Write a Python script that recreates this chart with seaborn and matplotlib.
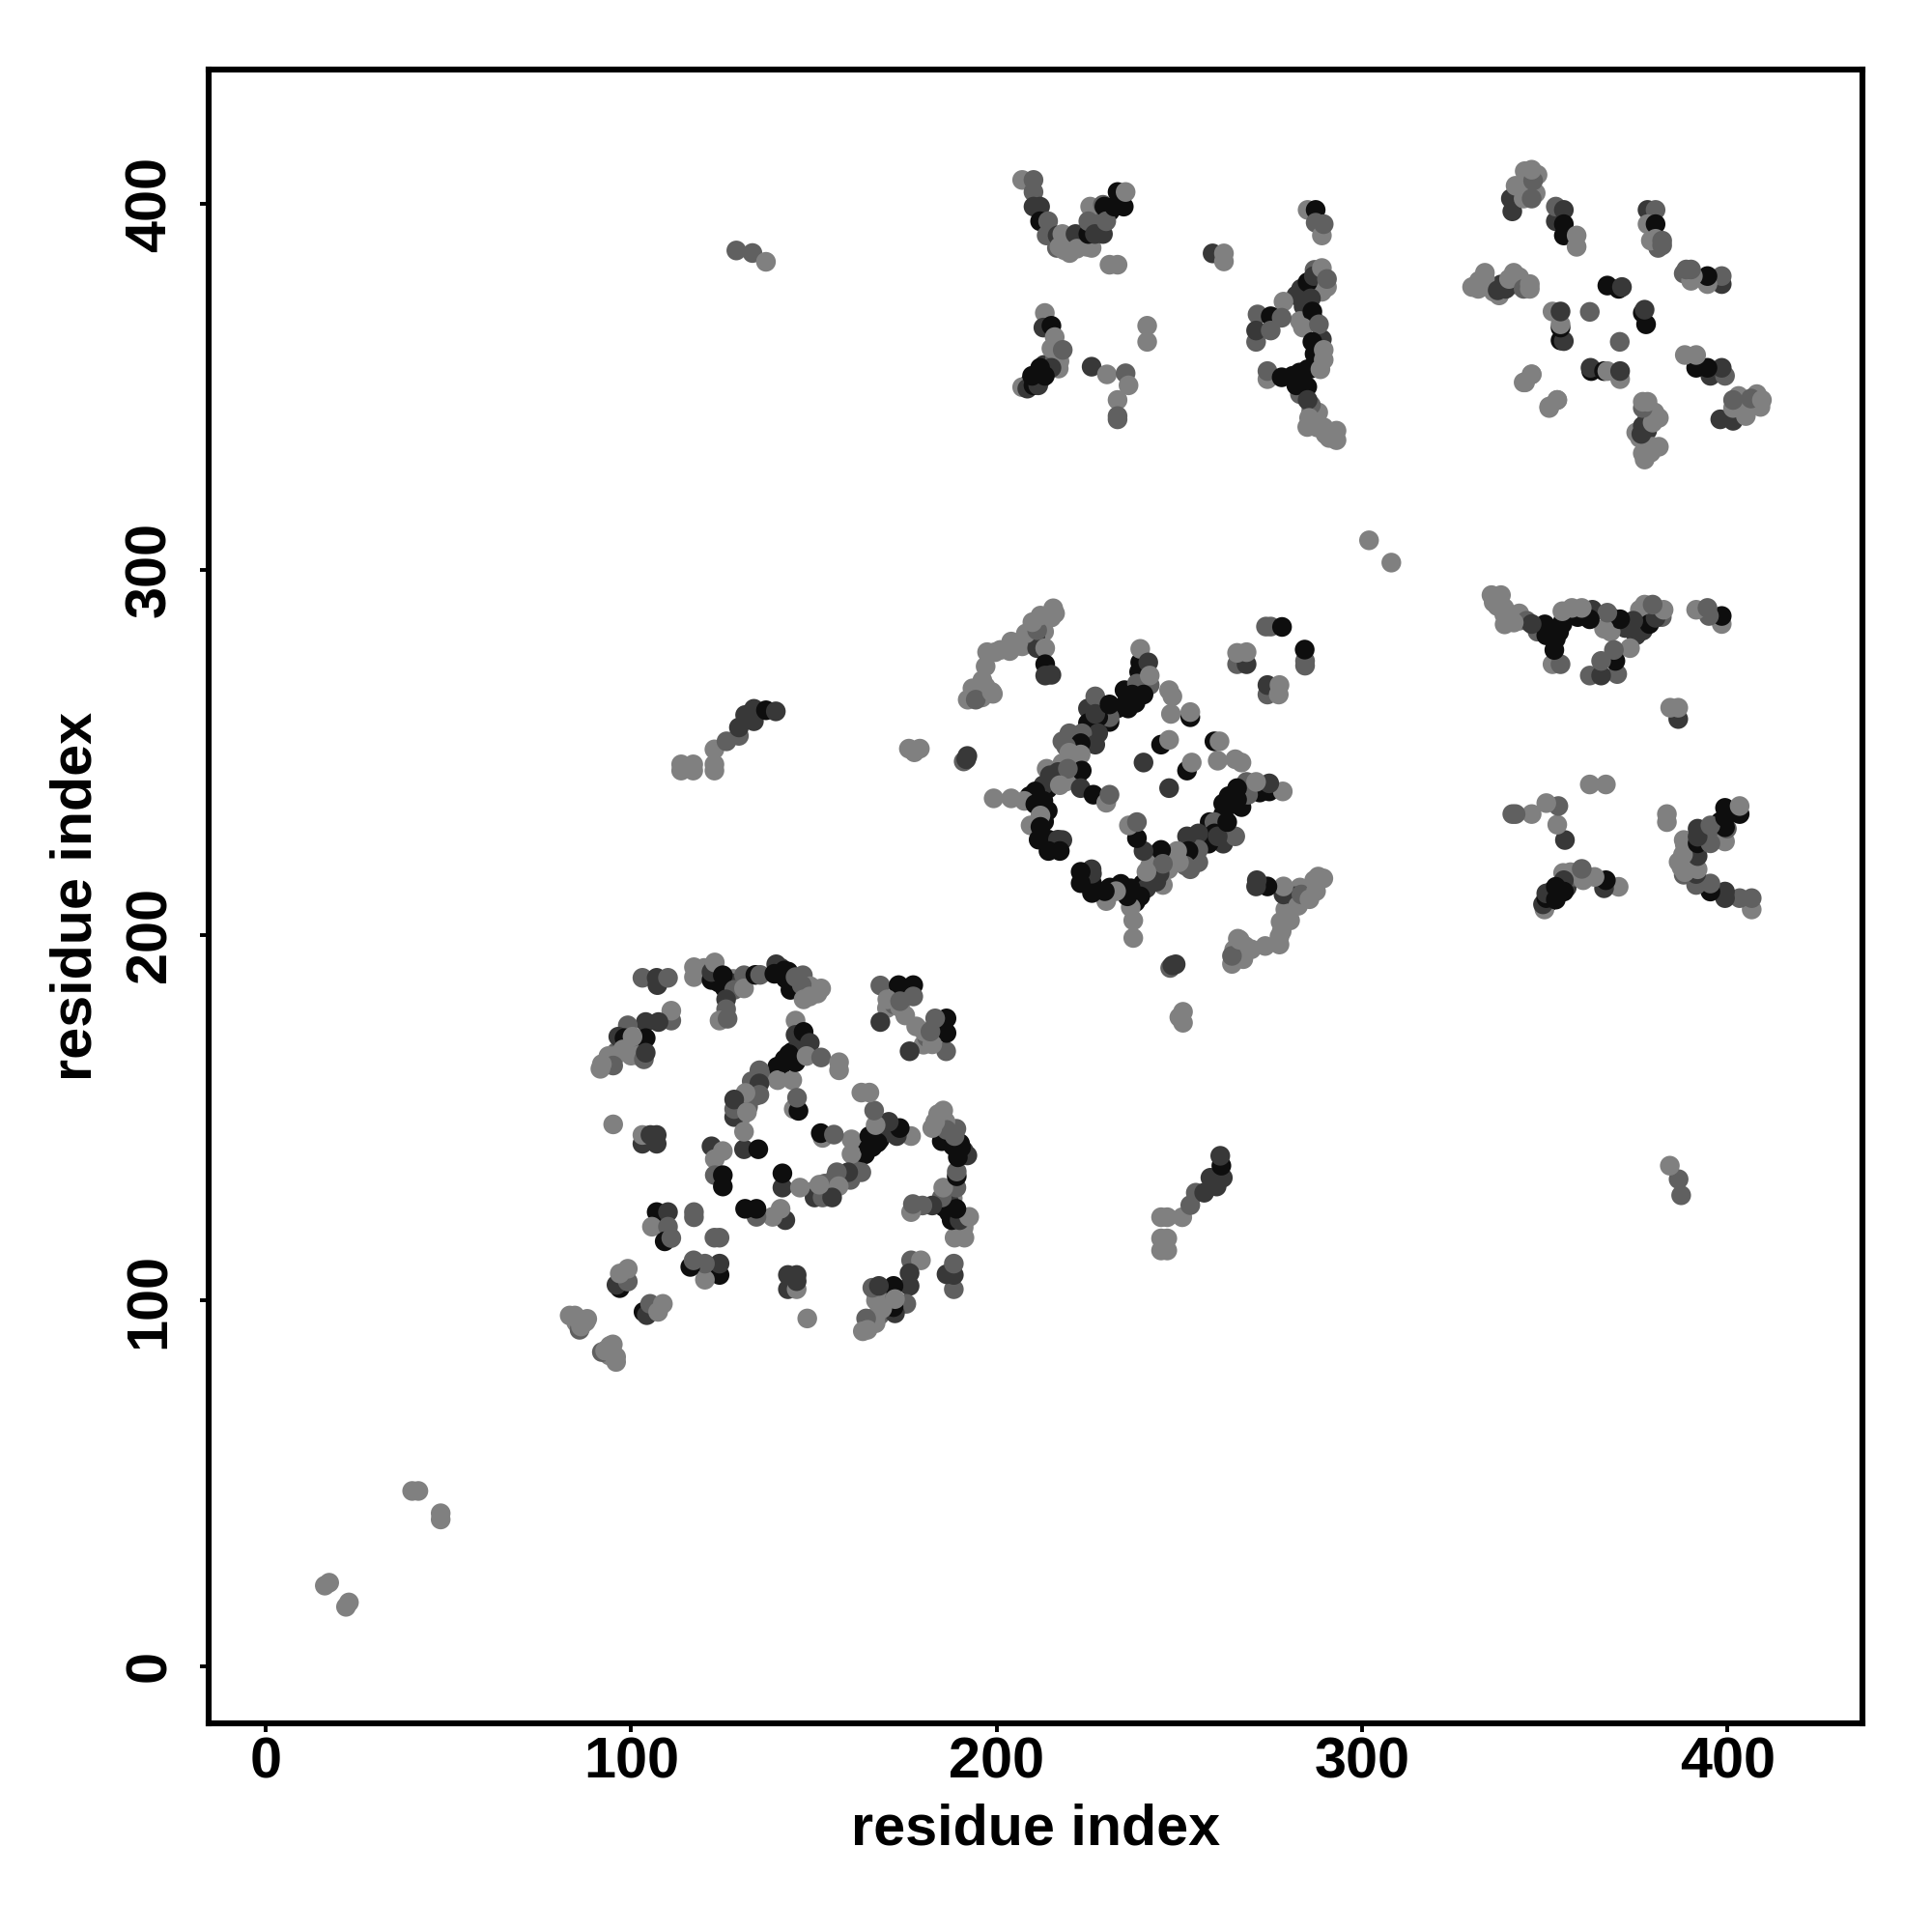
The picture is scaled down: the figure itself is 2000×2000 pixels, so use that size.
import matplotlib
matplotlib.use("Agg")
import matplotlib.pyplot as plt
import pandas as pd
import seaborn as sns

# contacts read from the upper triangle of the map, (i, j, shade)
# the map is symmetric, the lower triangle is mirrored below
contacts_far = [
    (16.2, 22.0, "L"), (17.4, 22.8, "L"), (40.1, 47.9, "L"), (41.8, 47.9, "L"),
    (128.8, 387.3, "M"), (133.2, 386.6, "M"), (136.9, 384.2, "L"), (301.9, 308.0, "L"),
    (113.7, 245.0, "L"), (117.0, 245.0, "L"), (113.7, 246.7, "L"), (117.0, 246.7, "L"),
    (122.8, 245.0, "L"), (122.8, 246.7, "L"), (122.8, 250.8, "L"),
    (126.1, 253.0, "M"), (129.5, 254.5, "M"), (129.5, 256.8, "D"), (133.6, 258.5, "D"),
    (131.2, 260.2, "D"), (133.6, 261.9, "D"), (136.9, 261.5, "K"), (139.6, 261.2, "D"),
    (176.0, 251.0, "L"), (177.5, 250.0, "L"), (179.0, 251.0, "L"),
]

# extra contacts in the crowded strands, drawn under the ones listed after them
contacts_strands = [
    (93.0, 165.0, "L"), (94.0, 166.0, "M"), (96.0, 168.0, "M"), (98.0, 170.0, "L"),
    (100.0, 170.0, "L"), (101.0, 169.0, "M"), (100.0, 167.0, "L"), (102.0, 167.0, "L"),
    (85.0, 94.0, "L"), (88.0, 95.0, "L"), (140.0, 164.0, "K"), (142.0, 166.0, "K"),
    (144.0, 168.0, "K"), (146.0, 170.0, "D"), (129.0, 153.0, "L"), (130.0, 150.0, "L"),
    (132.0, 153.0, "M"), (134.0, 156.0, "M"), (133.0, 160.0, "M"), (136.0, 161.0, "M"),
    (141.0, 191.0, "D"), (143.0, 190.0, "K"), (147.0, 189.0, "M"), (149.0, 186.0, "L"),
    (151.0, 184.0, "L"), (123.0, 190.0, "K"), (124.0, 187.0, "K"), (128.0, 188.0, "L"),
    (120.0, 191.0, "L"), (118.0, 190.0, "L"), (127.0, 187.0, "D"), (175.0, 178.0, "L"),
    (170.0, 180.0, "L"), (172.0, 181.0, "M"),
    (191.0, 247.5, "M"), (192.0, 249.0, "D"), (205.0, 279.0, "L"), (201.0, 278.0, "L"),
    (199.0, 266.0, "L"), (196.0, 265.0, "L"), (197.0, 268.0, "L"), (210.0, 284.0, "L"),
    (213.0, 286.0, "L"), (213.0, 283.0, "L"), (207.0, 279.0, "L"), (216.0, 288.0, "L"),
    (235.0, 267.0, "K"), (236.0, 262.0, "K"), (233.0, 262.0, "K"), (240.0, 268.0, "M"),
    (240.0, 270.0, "M"), (239.0, 272.0, "K"), (225.0, 262.0, "D"), (221.0, 253.0, "D"),
    (218.0, 253.0, "M"), (226.0, 256.0, "K"), (225.0, 258.0, "K"), (212.0, 238.0, "K"),
    (214.0, 240.0, "K"), (216.0, 243.0, "M"), (218.0, 247.0, "L"), (209.0, 238.0, "K"),
    (213.0, 231.0, "K"), (214.0, 234.0, "K"), (218.0, 226.0, "D"), (222.0, 243.0, "M"),
    (219.0, 242.0, "L"),
    (219.0, 388.0, "L"), (220.0, 386.6, "L"), (223.0, 389.0, "L"), (216.5, 388.0, "M"),
    (226.0, 388.0, "L"), (228.0, 394.0, "K"), (227.0, 396.0, "M"), (231.0, 398.0, "K"),
    (287.0, 382.0, "M"), (288.0, 378.0, "D"), (284.0, 377.0, "K"), (282.0, 375.0, "D"),
    (289.0, 376.0, "L"), (284.0, 372.0, "D"), (287.0, 368.0, "K"), (283.0, 368.0, "L"),
    (289.0, 363.0, "D"), (287.0, 359.0, "K"), (286.0, 355.0, "K"), (281.0, 353.0, "K"),
    (284.0, 351.0, "K"), (283.0, 348.0, "M"), (286.0, 343.0, "L"), (288.0, 340.0, "L"),
    (291.0, 337.0, "L"), (285.0, 339.0, "L"), (287.0, 341.0, "L"), (290.0, 337.0, "L"),
    (291.0, 336.0, "L"), (288.0, 343.0, "L"), (286.0, 345.0, "M"), (285.0, 350.0, "K"),
    (209.0, 351.0, "K"), (212.0, 352.0, "K"), (213.0, 356.0, "D"), (216.0, 358.0, "M"),
    (217.0, 355.0, "L"),
    (332.0, 379.0, "L"), (336.0, 376.0, "L"), (338.0, 378.0, "D"), (342.0, 378.0, "L"),
    (343.0, 380.0, "L"), (337.5, 375.0, "L"), (343.0, 403.0, "L"), (344.0, 405.0, "L"),
    (346.0, 404.0, "L"), (348.0, 408.0, "L"), (344.5, 409.0, "L"), (347.5, 403.0, "L"),
    (381.0, 389.0, "L"), (381.0, 388.0, "M"), (379.0, 390.0, "L"),
]

contacts_block_a = [
    (103.1, 188.3, "M"), (107.2, 186.3, "D"), (107.0, 188.3, "D"), (110.1, 188.3, "M"),
    (117.2, 188.5, "L"), (117.2, 191.2, "L"), (122.0, 187.7, "K"), (122.0, 189.9, "D"),
    (122.9, 192.5, "L"), (125.6, 185.5, "K"), (125.1, 189.0, "K"), (128.2, 185.0, "M"),
    (130.9, 189.0, "M"), (130.9, 185.4, "L"), (134.0, 189.1, "K"), (135.3, 189.1, "M"),
    (126.0, 182.4, "D"), (126.0, 179.7, "M"), (124.2, 176.6, "L"), (126.4, 177.1, "M"),
    (139.7, 192.0, "D"), (139.2, 189.4, "K"), (141.9, 190.3, "K"), (142.3, 188.1, "K"),
    (143.6, 185.0, "K"), (145.0, 188.5, "M"), (146.7, 186.3, "M"), (147.2, 182.4, "L"),
    (148.9, 183.2, "L"), (152.0, 185.4, "L"),
    (168.2, 186.2, "M"), (173.2, 186.3, "K"), (177.2, 186.3, "K"), (170.1, 182.4, "L"),
    (173.6, 180.2, "L"), (173.6, 181.9, "M"), (177.2, 183.2, "M"), (168.2, 176.2, "D"),
    (111.0, 176.6, "M"), (111.0, 179.3, "L"), (107.5, 176.2, "D"), (104.0, 176.2, "D"),
    (104.0, 171.8, "K"), (103.5, 166.0, "M"), (104.0, 167.8, "D"), (99.1, 175.3, "M"),
    (96.5, 172.2, "D"), (98.2, 171.8, "K"), (100.4, 172.2, "L"), (97.8, 168.7, "L"),
    (95.6, 166.9, "L"), (93.8, 166.9, "L"), (95.1, 164.3, "M"), (92.0, 164.7, "L"),
    (91.6, 163.4, "L"),
    (145.0, 176.6, "L"), (145.0, 172.7, "D"), (147.2, 173.5, "K"), (148.9, 170.5, "D"),
    (143.2, 167.4, "K"), (140.6, 163.0, "K"), (140.1, 160.3, "L"), (144.1, 160.3, "L"),
    (145.0, 165.2, "K"), (141.9, 165.2, "K"), (148.0, 166.9, "L"), (152.0, 166.5, "M"),
    (156.9, 163.0, "L"), (156.9, 165.2, "L"),
    (135.1, 163.0, "M"), (135.1, 159.4, "D"), (135.1, 156.3, "M"), (131.3, 156.8, "L"),
    (128.2, 150.2, "D"), (128.2, 152.4, "M"), (128.2, 155.0, "D"), (131.7, 151.5, "L"),
    (144.5, 152.4, "L"), (145.8, 151.9, "K"), (145.4, 155.5, "M"),
    (130.9, 141.4, "D"), (134.8, 141.4, "K"), (130.9, 146.2, "L"),
    (122.0, 142.2, "D"), (122.9, 138.7, "L"), (125.1, 140.9, "L"),
    (122.9, 134.3, "M"), (125.1, 131.2, "K"), (125.1, 134.3, "K"),
    (103.1, 142.9, "D"), (107.0, 142.9, "D"), (103.1, 145.3, "L"), (105.3, 145.3, "D"),
    (107.0, 145.3, "D"), (95.1, 148.2, "L"),
    (107.0, 124.2, "K"), (110.1, 124.2, "D"), (105.7, 120.2, "L"), (110.1, 120.2, "M"),
    (109.2, 116.2, "K"), (111.0, 117.1, "M"), (117.2, 122.8, "M"), (117.2, 124.2, "M"),
    (96.9, 103.4, "K"), (96.0, 104.3, "D"), (99.1, 105.2, "M"), (96.9, 107.4, "L"),
    (99.1, 108.7, "L"),
    (85.9, 92.0, "M"), (86.3, 92.9, "L"), (87.6, 94.2, "L"), (85.4, 95.0, "L"),
    (84.6, 95.9, "L"), (83.2, 95.9, "L"),
]

contacts_block_b = [
    (211.1, 278.5, "D"), (210.6, 281.6, "D"), (208.0, 282.5, "L"), (211.1, 283.4, "M"),
    (209.8, 285.6, "L"), (212.0, 287.4, "L"), (215.0, 286.9, "L"), (215.5, 289.4, "L"),
    (213.3, 278.5, "L"), (213.3, 274.1, "K"), (213.3, 271.0, "D"), (215.0, 271.2, "D"),
    (204.0, 280.3, "L"), (203.6, 277.7, "L"), (199.6, 277.4, "L"), (197.4, 277.4, "L"),
    (197.0, 273.5, "L"), (196.1, 269.7, "L"), (193.4, 267.5, "L"), (194.3, 267.1, "L"),
    (192.1, 264.4, "L"), (194.3, 264.4, "M"), (198.7, 266.5, "L"),
    (191.7, 248.1, "D"), (199.2, 237.4, "L"), (204.0, 237.4, "L"),
    (239.3, 274.6, "K"), (239.3, 278.3, "L"), (241.5, 274.6, "D"), (238.4, 268.8, "M"),
    (241.9, 268.4, "M"), (241.9, 271.0, "L"), (238.0, 263.5, "K"), (235.8, 264.4, "K"),
    (237.1, 265.8, "K"), (240.2, 265.8, "K"), (227.0, 265.3, "M"), (230.9, 258.3, "K"),
    (230.9, 259.6, "M"), (227.8, 259.6, "K"), (227.0, 260.5, "D"), (230.9, 263.1, "K"),
    (227.8, 255.2, "D"), (223.4, 255.2, "M"), (219.9, 255.2, "M"), (227.0, 252.1, "D"),
    (223.0, 252.5, "K"), (219.0, 251.6, "M"), (219.9, 249.9, "L"), (223.0, 249.4, "L"),
    (223.3, 245.0, "K"), (223.0, 240.2, "D"), (226.5, 238.4, "K"), (230.0, 236.2, "L"),
    (230.9, 238.4, "M"), (213.7, 245.5, "L"), (214.6, 243.7, "D"), (216.8, 244.6, "D"),
    (219.5, 245.5, "M"), (212.8, 241.0, "D"), (217.3, 241.0, "L"), (210.6, 239.3, "K"),
    (207.6, 236.7, "L"), (212.8, 236.7, "K"), (210.6, 235.8, "K"), (212.0, 232.7, "L"),
    (209.3, 230.0, "L"), (212.0, 229.6, "K"), (211.5, 226.1, "K"), (214.2, 226.1, "K"),
    (216.8, 226.1, "D"), (214.2, 223.0, "K"), (217.3, 223.0, "K"),
    (247.2, 267.0, "L"), (248.1, 265.3, "L"), (247.7, 260.5, "L"), (253.0, 259.6, "K"),
    (253.0, 261.0, "L"), (245.0, 252.1, "K"), (247.2, 253.4, "L"), (240.2, 247.2, "D"),
    (273.7, 284.4, "M"), (275.0, 284.4, "M"), (278.1, 284.3, "K"), (265.8, 274.1, "M"),
    (268.4, 274.1, "D"), (265.8, 277.2, "L"), (268.4, 277.4, "L"),
]

contacts_block_c = [
    (207.0, 406.6, "L"), (210.1, 406.6, "M"), (210.1, 403.3, "M"), (210.1, 399.3, "D"),
    (211.9, 399.3, "D"), (211.9, 395.3, "K"), (214.1, 395.3, "M"), (213.7, 391.4, "M"),
    (216.7, 391.4, "D"), (217.2, 388.3, "L"), (218.5, 387.4, "L"), (218.0, 391.8, "L"),
    (221.6, 391.8, "D"), (222.0, 387.8, "L"), (224.7, 388.3, "L"), (225.6, 399.3, "L"),
    (225.1, 391.8, "K"), (225.1, 395.3, "M"), (226.9, 391.8, "D"), (229.1, 391.8, "D"),
    (229.1, 399.8, "M"), (229.5, 399.3, "K"), (230.0, 395.3, "M"), (232.2, 399.3, "K"),
    (234.8, 399.3, "K"), (233.1, 403.3, "K"), (235.3, 403.3, "L"), (230.9, 383.4, "L"),
    (233.1, 383.4, "L"),
    (213.2, 370.2, "L"), (212.8, 366.2, "D"), (215.0, 366.7, "K"), (215.0, 360.5, "L"),
    (215.9, 363.6, "L"), (217.2, 357.0, "L"), (218.1, 360.1, "M"), (215.0, 355.2, "D"),
    (207.0, 349.9, "L"), (208.4, 349.5, "D"), (210.1, 350.4, "K"), (211.4, 350.4, "D"),
    (209.7, 353.0, "K"), (211.9, 355.2, "K"), (213.2, 353.0, "K"),
    (226.0, 355.5, "D"), (230.2, 353.4, "L"), (235.3, 353.7, "M"), (236.1, 350.4, "L"),
    (233.1, 346.4, "L"), (233.1, 341.1, "M"), (233.1, 342.0, "M"), (241.2, 366.7, "L"),
    (241.2, 362.3, "L"), (259.1, 386.5, "D"), (262.2, 384.3, "L"), (262.2, 386.5, "L"),
    (285.1, 398.4, "L"), (287.3, 398.4, "K"), (287.3, 394.9, "M"), (289.0, 391.4, "L"),
    (289.5, 394.5, "M"),
    (283.3, 376.8, "D"), (285.1, 378.6, "K"), (286.8, 380.3, "D"), (289.0, 382.5, "L"),
    (290.4, 377.3, "L"), (290.4, 379.5, "M"), (278.5, 373.3, "L"), (286.0, 374.2, "D"),
    (286.4, 370.6, "K"), (271.4, 369.8, "M"), (275.0, 369.3, "K"), (278.0, 368.9, "M"),
    (271.0, 362.3, "M"), (271.0, 365.4, "D"), (275.0, 365.4, "M"), (283.8, 366.2, "L"),
    (288.2, 367.1, "M"), (286.4, 362.3, "K"), (289.5, 357.4, "L"), (289.5, 360.1, "L"),
    (274.1, 352.1, "L"), (274.1, 354.3, "M"), (278.0, 352.6, "K"), (282.0, 350.4, "K"),
    (282.9, 353.9, "K"), (285.1, 354.8, "K"), (288.6, 354.8, "L"), (285.1, 346.4, "D"),
    (285.5, 341.5, "L"), (287.7, 338.9, "L"), (289.5, 338.9, "L"), (293.0, 335.4, "L"),
    (293.0, 338.0, "L"),
]

contacts_block_d = [
    (341.1, 398.0, "D"), (340.7, 401.5, "D"), (342.0, 405.0, "L"), (344.2, 401.5, "L"),
    (346.4, 401.5, "M"), (346.8, 406.4, "M"), (346.4, 409.4, "L"),
    (353.0, 395.3, "D"), (353.0, 399.3, "M"), (355.2, 398.4, "D"), (355.2, 394.5, "K"),
    (355.2, 391.4, "K"), (358.7, 388.3, "L"), (358.7, 391.4, "L"),
    (378.1, 398.4, "D"), (380.3, 398.4, "M"), (378.1, 394.5, "L"), (380.3, 394.5, "K"),
    (380.3, 390.5, "L"), (382.1, 388.7, "M"), (382.1, 390.0, "M"),
    (330.1, 377.3, "L"), (331.8, 376.8, "L"), (333.6, 379.5, "L"), (333.6, 381.2, "L"),
    (337.1, 376.4, "D"), (339.3, 376.8, "D"), (340.2, 379.5, "L"), (341.5, 381.2, "L"),
    (344.2, 376.8, "M"), (345.9, 376.8, "L"), (345.9, 378.1, "L"),
    (352.1, 370.6, "L"), (354.3, 362.7, "K"), (355.2, 362.5, "D"), (354.3, 366.2, "K"),
    (354.3, 367.1, "L"), (354.3, 370.6, "D"), (362.3, 370.5, "M"),
    (367.1, 377.7, "K"), (370.2, 376.8, "K"), (371.1, 377.3, "D"),
    (344.2, 351.2, "L"), (346.4, 353.4, "L"), (351.2, 344.6, "L"), (353.4, 346.4, "L"),
]

shade_colors = {"L": "#808080", "M": "#606060", "D": "#383838", "K": "#0e0e0e"}
tick_values = [0, 100, 200, 300, 400]
axis_label = "residue index"

upper = pd.DataFrame(
    contacts_strands + contacts_far + contacts_block_a + contacts_block_b + contacts_block_c + contacts_block_d,
    columns=["i", "j", "shade"],
)
lower = upper.rename(columns={"i": "j", "j": "i"})
contacts = pd.concat([upper, lower], ignore_index=True)

sns.set_theme(style="ticks")
plt.rcParams["font.family"] = ["Liberation Sans", "DejaVu Sans"]
plt.rcParams["font.weight"] = "bold"

fig = plt.figure(figsize=(10, 10), dpi=200)
ax = fig.add_axes([216.3 / 2000, 1 - 1783.7 / 2000, (1928 - 216.3) / 2000, (1783.7 - 72) / 2000])

sns.scatterplot(
    data=contacts, x="i", y="j", hue="shade", palette=shade_colors,
    s=54, linewidth=0, alpha=1, legend=False, ax=ax,
)

ax.set_xlim(-15.5, 436.9)
ax.set_ylim(-15.6, 436.8)
ax.set_xticks(tick_values)
ax.set_yticks(tick_values)
ax.tick_params(axis="both", length=3.4, width=1.4, color="black", labelsize=21.4, labelcolor="black")
ax.tick_params(axis="x", pad=1.5)
ax.tick_params(axis="y", pad=8.5)
for lab in ax.get_yticklabels():
    lab.set_rotation(90)
    lab.set_va("center")
for side in ax.spines.values():
    side.set_linewidth(2.2)
    side.set_color("black")

ax.set_xlabel(axis_label, fontsize=21.4, fontweight="bold", color="black", va="center")
ax.set_ylabel(axis_label, fontsize=21.4, fontweight="bold", color="black", va="center")
ax.xaxis.set_label_coords(0.5, (1783.7 - 1894.5) / (1783.7 - 72))
ax.yaxis.set_label_coords((79.5 - 216.3) / (1928 - 216.3), 0.5)

fig.savefig("out.png", dpi=200, facecolor="white")
plt.close("all")
